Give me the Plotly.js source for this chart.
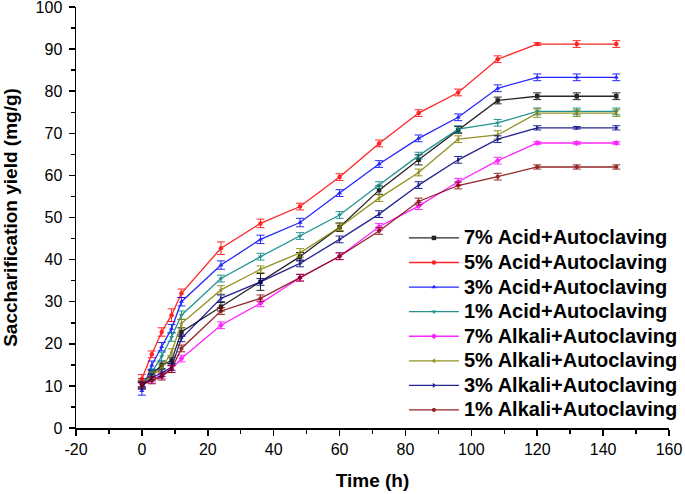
<!DOCTYPE html>
<html>
<head>
<meta charset="utf-8">
<script src="https://cdn.plot.ly/plotly-3.0.1.min.js"></script>
<style>html,body{margin:0;padding:0;background:#fff}#chart{width:685px;height:494px}</style>
</head>
<body>
<div id="chart"></div>
<script>
var timeH = [0,3,6,9,12,24,36,48,60,72,84,96,108,120,132,144];

var seriesNames = ["7% Acid+Autoclaving","5% Acid+Autoclaving","3% Acid+Autoclaving","1% Acid+Autoclaving",
  "7% Alkali+Autoclaving","5% Alkali+Autoclaving","3% Alkali+Autoclaving","1% Alkali+Autoclaving"];

var acid7   = [10.7,12.9,14.9,16.0,22.8,28.8,34.7,40.7,47.7,56.5,63.7,70.8,77.8,78.8,78.8,78.8];
var acid5   = [11.7,17.5,22.8,26.8,32.0,42.7,48.6,52.6,59.6,67.6,74.8,79.7,87.6,91.2,91.2,91.2];
var acid3   = [8.8,14.9,19.3,23.6,30.0,38.7,44.8,48.8,55.8,62.7,68.8,73.8,80.7,83.3,83.3,83.3];
var acid1   = [10.2,13.2,17.0,21.6,26.8,35.5,40.7,45.6,50.6,57.7,64.7,71.0,72.5,75.2,75.2,75.2];
var alkali7 = [10.5,11.5,12.5,14.0,16.5,24.4,29.6,35.7,40.8,47.8,52.7,58.5,63.5,67.7,67.7,67.7];
var alkali5 = [10.4,12.5,14.2,18.0,24.8,32.8,37.7,41.6,47.7,54.6,60.7,68.6,69.6,74.8,74.8,74.8];
var alkali3 = [10.0,12.0,13.0,14.5,21.3,30.8,34.7,39.1,44.8,50.8,57.7,63.7,68.6,71.3,71.3,71.3];
var alkali1 = [10.3,11.3,12.2,14.0,18.9,27.8,30.8,35.7,40.8,46.8,53.8,57.6,59.7,62.0,62.0,62.0];

var errAcid7   = [1.0,0.8,0.8,0.8,1.0,1.0,2.0,1.0,1.0,1.0,1.2,0.8,0.8,0.8,0.8,0.8];
var errAcid5   = [1.0,0.8,1.0,1.5,1.0,1.5,1.0,0.8,0.8,0.8,0.8,0.8,0.8,0.3,0.8,0.8];
var errAcid3   = [1.0,1.0,1.0,1.0,1.0,1.0,1.0,1.0,0.8,0.8,0.8,0.8,0.8,0.8,0.8,0.8];
var errAcid1   = [0.8,0.8,1.0,1.0,1.0,0.8,0.8,0.8,0.8,0.8,0.8,0.8,0.8,0.8,0.8,0.8];
var errAlkali7 = [0.8,0.8,0.8,0.8,0.8,0.8,0.8,0.8,0.8,0.8,0.8,0.8,0.8,0.3,0.3,0.3];
var errAlkali5 = [0.8,0.8,0.8,0.8,1.0,1.0,0.8,1.0,0.8,0.8,0.8,0.8,1.0,1.0,0.8,0.8];
var errAlkali3 = [0.8,0.8,0.8,0.8,0.8,0.8,0.8,0.8,0.8,0.8,0.8,0.8,0.8,0.5,0.3,0.5];
var errAlkali1 = [0.8,0.8,0.8,0.8,0.8,0.8,0.8,0.8,0.8,0.8,0.8,0.8,0.8,0.5,0.5,0.5];

var xTickVals = [-20,0,20,40,60,80,100,120,140,160];
var yTickVals = [0,10,20,30,40,50,60,70,80,90,100];

var values = [acid7,acid5,acid3,acid1,alkali7,alkali5,alkali3,alkali1];
var errors = [errAcid7,errAcid5,errAcid3,errAcid1,errAlkali7,errAlkali5,errAlkali3,errAlkali1];
var colors = ["#000000","#FF0000","#0000FF","#008080","#FF00FF","#808000","#000080","#800000"];
var symbols = ["square","circle","triangle-up","triangle-down","diamond","triangle-left","triangle-right","hexagon"];

var traces = values.map(function(v,i){
  return {
    x: timeH, y: v,
    name: '<span style="font-size:20px">' + seriesNames[i] + '</span>',
    type: "scatter", mode: "lines+markers",
    line: {color: colors[i], width: 1.3},
    marker: {color: colors[i], symbol: symbols[i], size: 4.5},
    error_y: {type: "data", array: errors[i], visible: true, color: colors[i], thickness: 1, width: 4},
    opacity: 0.85
  };
});

var layout = {
  width: 685, height: 494,
  margin: {l: 76, r: 16, t: 7, b: 66, autoexpand: false},
  paper_bgcolor: "#fff", plot_bgcolor: "#fff",
  showlegend: true,
  font: {family: "Liberation Sans, Arial, sans-serif", color: "#000"},
  xaxis: {
    range: [-20,160], tickvals: xTickVals, ticktext: xTickVals.map(String),
    showgrid: false, zeroline: false, showline: true, linecolor: "#000", linewidth: 1.5,
    ticks: "outside", ticklen: 6, tickwidth: 1.5, tickcolor: "#000",
    minor: {dtick: 10, ticks: "outside", ticklen: 4, tickwidth: 1.5, tickcolor: "#000"},
    tickfont: {size: 16, color: "#000"}, ticklabeloverflow: "allow",
    title: {text: "Time (h)", font: {size: 19, weight: "bold", color: "#000"}, standoff: 17},
    fixedrange: true, automargin: false
  },
  yaxis: {
    range: [0,100], tickvals: yTickVals, ticktext: yTickVals.map(String),
    showgrid: false, zeroline: false, showline: true, linecolor: "#000", linewidth: 1.5,
    ticks: "outside", ticklen: 6, tickwidth: 1.5, tickcolor: "#000",
    minor: {dtick: 5, ticks: "outside", ticklen: 4, tickwidth: 1.5, tickcolor: "#000"},
    tickfont: {size: 16, color: "#000"}, ticklabeloverflow: "allow", ticklabelstandoff: 3,
    title: {text: "Saccharification yield (mg/g)", font: {size: 19, weight: "bold", color: "#000"}, standoff: 20},
    fixedrange: true, automargin: false
  },
  legend: {
    x: 0.553, y: 0.4926, xanchor: "left", yanchor: "top",
    bgcolor: "rgba(0,0,0,0)", borderwidth: 0,
    font: {size: 16.6, weight: "bold", color: "#000"},
    itemwidth: 50, tracegroupgap: 0, traceorder: "normal"
  }
};

Plotly.newPlot("chart", traces, layout, {displayModeBar: false, staticPlot: true});
</script>
</body>
</html>
